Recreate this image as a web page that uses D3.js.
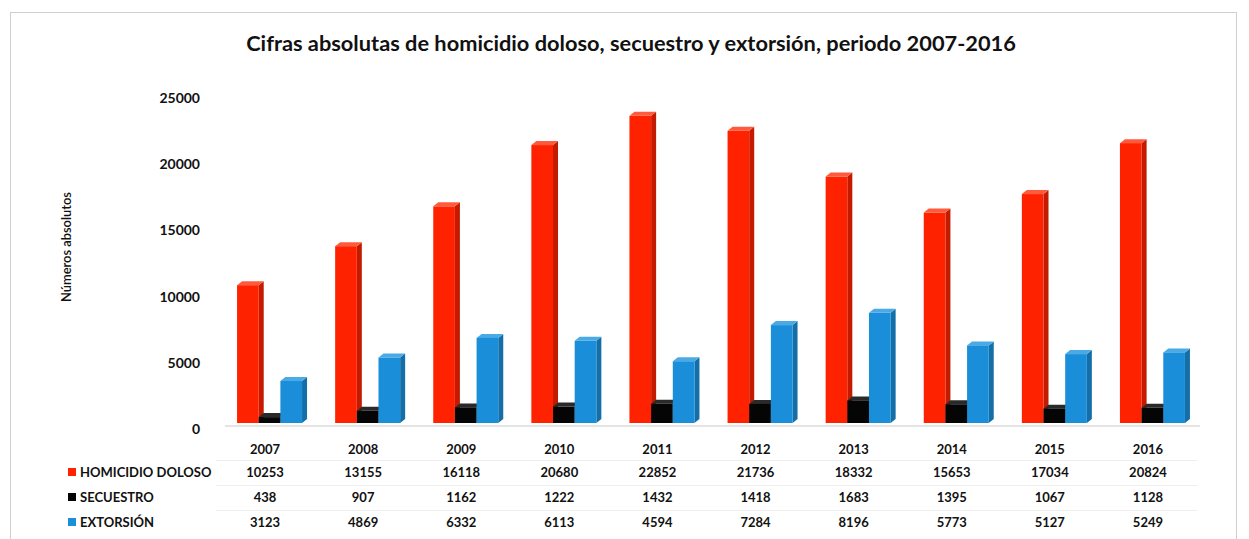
<!DOCTYPE html>
<html>
<head>
<meta charset="utf-8">
<script src="https://cdn.jsdelivr.net/npm/d3@7"></script>
<style>
  body { margin: 0; background: #fff; }
  svg { display: block; font-family: Lato, "Open Sans", sans-serif; }
  .tbl text { font-weight: bold; font-size: 13px; fill: #111; }
</style>
</head>
<body>
<div id="chart"></div>
<script>
const years = ["2007", "2008", "2009", "2010", "2011", "2012", "2013", "2014", "2015", "2016"];
const seriesNames = ["HOMICIDIO DOLOSO", "SECUESTRO", "EXTORSIÓN"];
const homicidio = [10253, 13155, 16118, 20680, 22852, 21736, 18332, 15653, 17034, 20824];
const secuestro = [438, 907, 1162, 1222, 1432, 1418, 1683, 1395, 1067, 1128];
const extorsion = [3123, 4869, 6332, 6113, 4594, 7284, 8196, 5773, 5127, 5249];
const yTicks = [0, 5000, 10000, 15000, 20000, 25000];

const frontColors = ["#ff2200", "#050505", "#1a8ed8"];
const sideColors = ["#c41a00", "#000000", "#146ea8"];
const topColors = ["#ff5a3c", "#2a2a2a", "#4aaae6"];

const W = 1249, H = 539;
const svg = d3.select("#chart").append("svg").attr("width", W).attr("height", H);

// frame
svg.append("rect").attr("x", 10.5).attr("y", 12.5).attr("width", 1226).attr("height", 540)
    .attr("fill", "#fff").attr("stroke", "#cfcfcf");

// title, fitted to width of the original
const title = svg.append("text").attr("x", 631).attr("y", 51).attr("text-anchor", "middle")
    .attr("font-weight", "bold").attr("font-size", 20).attr("fill", "#111")
    .text("Cifras absolutas de homicidio doloso, secuestro y extorsión, periodo 2007-2016");
const tw = title.node().getComputedTextLength();
title.attr("font-size", 20 * 770 / tw);

// scales
const x = d3.scaleBand().domain(years).range([216, 1197]);
const yAxisScale = d3.scaleLinear().domain([0, 25000]).range([429, 98]);
const yBar = d3.scaleLinear().domain([0, 25000]).range([423, 87]);
const inner = d3.scaleBand().domain(seriesNames).range([-28, 37]).padding(0);

// y axis labels
const yAxis = svg.append("g").attr("transform", "translate(200,0)")
    .call(d3.axisLeft(yAxisScale).tickValues(yTicks).tickSize(0).tickPadding(0).tickFormat(d3.format("d")));
yAxis.select(".domain").remove();
yAxis.selectAll("text").attr("font-size", 14).attr("font-weight", "bold").attr("fill", "#111")
    .attr("font-family", "Lato, sans-serif");

const ylab = svg.append("text").attr("transform", "translate(71,247) rotate(-90)").attr("text-anchor", "middle")
    .attr("font-size", 14).attr("font-weight", 600).attr("fill", "#111").text("Números absolutos");
ylab.attr("font-size", 14 * 110 / ylab.node().getComputedTextLength());

// floor line
svg.append("line").attr("x1", 225).attr("x2", 1200).attr("y1", yBar(0) + 3).attr("y2", yBar(0) + 3)
    .attr("stroke", "#e4e4e4").attr("stroke-width", 2);

// 3D bars
const dx = 5, dy = 4;
const data = [homicidio, secuestro, extorsion];
const bars = [];
years.forEach((yr, i) => {
    data.forEach((arr, s) => bars.push({ year: yr, s: s, v: arr[i] }));
});
const g = svg.append("g").attr("class", "bars");
const bar = g.selectAll("g").data(bars).enter().append("g")
    .attr("transform", d => `translate(${x(d.year) + x.bandwidth() / 2 + inner(seriesNames[d.s])},0)`);
const bw = inner.bandwidth();
bar.append("path").attr("fill", d => sideColors[d.s])
    .attr("d", d => {
        const t = yBar(d.v), b = yBar(0);
        return `M${bw},${t}L${bw + dx},${t - dy}L${bw + dx},${b - dy}L${bw},${b}Z`;
    });
bar.append("path").attr("fill", d => topColors[d.s])
    .attr("d", d => {
        const t = yBar(d.v);
        return `M0,${t}L${dx},${t - dy}L${bw + dx},${t - dy}L${bw},${t}Z`;
    });
bar.append("rect").attr("x", 0).attr("width", bw)
    .attr("y", d => yBar(d.v)).attr("height", d => yBar(0) - yBar(d.v))
    .attr("fill", d => frontColors[d.s]);

// data table
const rowY = [454, 477, 502, 527];
const tbl = svg.append("g").attr("class", "tbl");
[460, 485, 510].forEach(yy => {
    tbl.append("line").attr("x1", 216).attr("x2", 1197).attr("y1", yy + 0.5).attr("y2", yy + 0.5)
        .attr("stroke", "#eeeeee");
});
tbl.selectAll("text.year").data(years).enter().append("text").attr("class", "year")
    .attr("x", d => x(d) + x.bandwidth() / 2).attr("y", rowY[0]).attr("text-anchor", "middle").text(d => d);
data.forEach((arr, s) => {
    tbl.selectAll("text.v" + s).data(arr).enter().append("text").attr("class", "v" + s)
        .attr("x", (d, i) => x(years[i]) + x.bandwidth() / 2).attr("y", rowY[s + 1])
        .attr("text-anchor", "middle").text(d => d);
});
const leg = tbl.selectAll("g.leg").data(seriesNames).enter().append("g").attr("class", "leg");
leg.append("rect").attr("x", 68).attr("y", (d, i) => rowY[i + 1] - 9).attr("width", 8).attr("height", 8)
    .attr("fill", (d, i) => frontColors[i]);
leg.append("text").attr("x", 80).attr("y", (d, i) => rowY[i + 1]).text(d => d);
</script>
</body>
</html>
